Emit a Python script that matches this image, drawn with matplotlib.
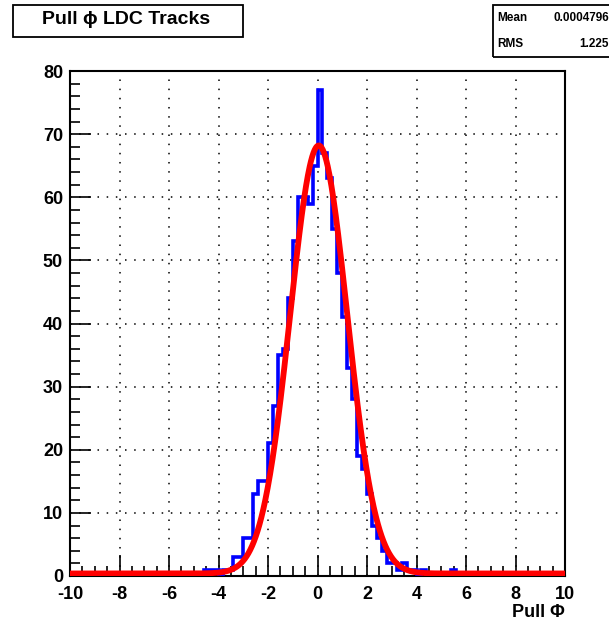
import numpy as np
import matplotlib
matplotlib.use("Agg")
from matplotlib import pyplot as plt
from matplotlib.patches import Rectangle

plt.rcParams['font.family'] = ['Liberation Sans', 'DejaVu Sans']
plt.rcParams['axes.unicode_minus'] = False

# histogram: 100 bins from -10 to 10
bin_lo, bin_hi, n_bins = -10.0, 10.0, 100
# non-empty region, left edges from -4.6 upward in steps of 0.2
first_edge = -4.6
counts_nonzero = [1, 1, 1, 0, 1, 1, 3, 3, 6, 6,
                  13, 15, 15, 21, 27, 35, 36, 44, 53, 60,
                  60, 59, 65, 77, 67, 63, 55, 48, 41, 33,
                  28, 19, 17, 13, 8, 6, 4, 2, 2, 1,
                  2, 1, 1, 0, 1, 0, 0, 0, 0, 0, 1]

# gaussian fit drawn in red
fit_amp, fit_mean, fit_sigma, fit_const = 67.8, 0.05, 1.15, 0.4

title_text = "Pull ϕ LDC Tracks"
stat_names = ["Mean", "RMS"]
stat_values = ["0.0004796", "1.225"]
xlabel_text = "Pull Φ"

edges = np.linspace(bin_lo, bin_hi, n_bins + 1)
counts = np.zeros(n_bins)
i0 = int(round((first_edge - bin_lo) / 0.2))
counts[i0:i0 + len(counts_nonzero)] = counts_nonzero

W, H = 609, 628
fig = plt.figure(figsize=(W / 100, H / 100), dpi=100)
ax = fig.add_axes([70 / W, 1 - 576 / H, 495 / W, 505 / H])

ax.stairs(counts, edges, color='#0000ff', lw=2.6, zorder=3)
xf = np.linspace(bin_lo, bin_hi, 800)
yf = fit_amp * np.exp(-0.5 * ((xf - fit_mean) / fit_sigma) ** 2) + fit_const
ax.plot(xf, yf, color='#ff0000', lw=4.2, zorder=4)

ax.set_xlim(bin_lo, bin_hi)
ax.set_ylim(0, 80)
ax.set_xticks(np.arange(-10, 11, 2))
ax.set_xticks(np.arange(-10, 10.01, 0.5), minor=True)
ax.set_yticks(np.arange(0, 81, 10))
ax.set_yticks(np.arange(0, 81, 2), minor=True)
ax.grid(True, which='major', color='black', ls=(0, (1, 5)), lw=1.1)
ax.tick_params(which='major', direction='in', length=15, width=1.2,
               labelsize=13)
ax.tick_params(axis='x', which='major', pad=7)
ax.tick_params(axis='y', which='major', pad=5)
ax.tick_params(which='minor', direction='in', length=7.5, width=1.2)
for lab in ax.get_xticklabels() + ax.get_yticklabels():
    lab.set_fontweight('bold')
for s in ax.spines.values():
    s.set_linewidth(1.5)

ax.set_xlabel(xlabel_text, fontsize=13, fontweight='bold', loc='right',
              labelpad=1)

# title box
fig.patches.append(Rectangle((13 / W, 1 - 37 / H), 230 / W, 32 / H,
                             transform=fig.transFigure, fill=False,
                             lw=1.3, edgecolor='black'))
fig.text(126 / W, 1 - 19 / H, title_text, ha='center', va='center',
         fontsize=14, fontweight='bold')

# stats box
fig.patches.append(Rectangle((493 / W, 1 - 57 / H), 120 / W, 52 / H,
                             transform=fig.transFigure, fill=False,
                             lw=1.3, edgecolor='black'))
for k, (nm, val) in enumerate(zip(stat_names, stat_values)):
    yy = 1 - (18 + k * 26) / H
    fig.text(497 / W, yy, nm, ha='left', va='center', fontsize=8.5,
             fontweight='bold')
    fig.text(609 / W, yy, val, ha='right', va='center', fontsize=8.5,
             fontweight='bold')

fig.savefig("out.png", dpi=100)
